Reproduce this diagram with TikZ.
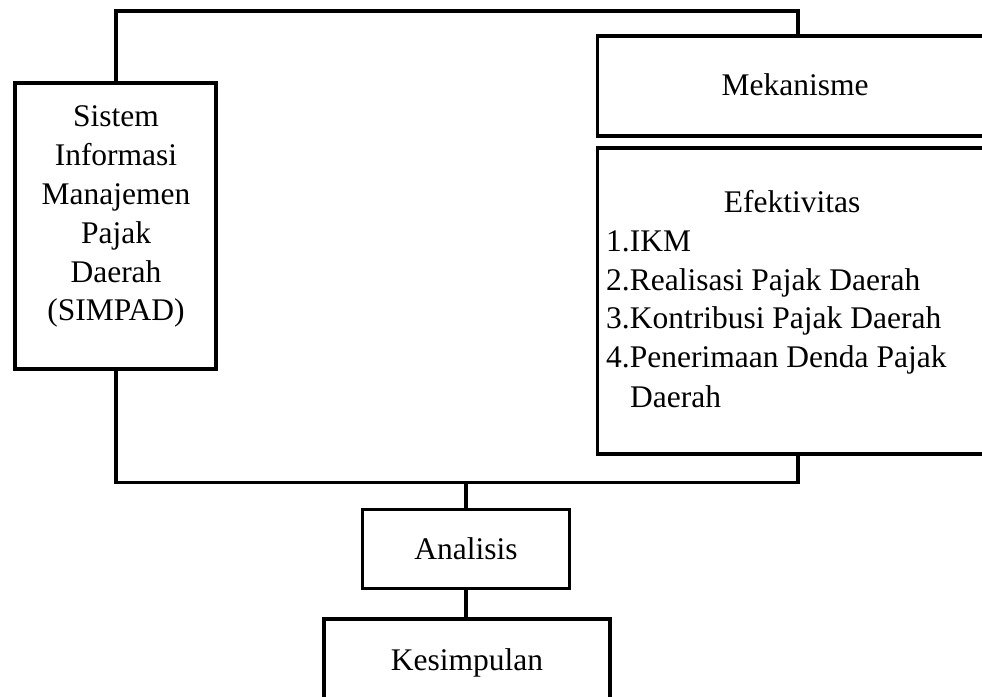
\documentclass[tikz,border=0pt]{standalone}
\usepackage{fontspec}
\setmainfont{Liberation Serif}
\begin{document}
\begin{tikzpicture}[x=1pt,y=-1pt,
  box/.style={draw=black,line width=3.8pt,inner sep=0pt},
  conn/.style={draw=black,line width=3.8pt},
  lbl/.style={anchor=base,inner sep=0pt,font=\fontsize{31.5}{39}\selectfont},
  lbll/.style={anchor=base west,inner sep=0pt,font=\fontsize{31.5}{39}\selectfont}]
\useasboundingbox (0,0) rectangle (982,696);
\clip (0,0) rectangle (982,696);
% boxes
\draw[box] (15,83) rectangle (216,369);
\node[inner sep=0pt,minimum width=201pt,minimum height=286pt] (simpad) at (115.5,226) {};
\draw[box] (597.5,36) rectangle (1010,136);
\coordinate (mek) at (798,36);
\draw[box] (597.5,148) rectangle (1010,454);
\coordinate (efk) at (798,454);
\draw[box] (362.5,509.5) rectangle (569.5,588.5);
\node[inner sep=0pt,minimum width=207pt,minimum height=79pt] (ana) at (466,549) {};
\draw[box] (324,619) rectangle (610,720);
\coordinate (kes) at (466,619);
% texts
\node[lbl] (t1) at (116,126) {Sistem};
\node[lbl] (t2) at (116,165) {Informasi};
\node[lbl] (t3) at (116,204) {Manajemen};
\node[lbl] (t4) at (116,243) {Pajak};
\node[lbl] (t5) at (116,282) {Daerah};
\node[lbl] (t6) at (116,320) {(SIMPAD)};
\node[lbl] (m1) at (795,95) {Mekanisme};
\node[lbl] (e0) at (792,212) {Efektivitas};
\node[lbll] (e1) at (606,251) {1.IKM};
\node[lbll] (e2) at (606,290) {2.Realisasi Pajak Daerah};
\node[lbll] (e3) at (606,328) {3.Kontribusi Pajak Daerah};
\node[lbll] (e4) at (606,367) {4.Penerimaan Denda Pajak};
\node[lbll] (e5) at (630,407) {Daerah};
\node[lbl] (a1) at (466,559) {Analisis};
\node[lbl] (k1) at (467,670) {Kesimpulan};
% connectors
\coordinate (tl) at (116,11);
\coordinate (tr) at (798,11);
\coordinate (bl) at (116,482.5);
\coordinate (br) at (798,482.5);
\coordinate (bm) at (466,482.5);
\draw[conn,line join=miter] (116,83) -- (tl) -- (tr) -- (mek);
\draw[conn,line join=miter] (116,369) -- (bl) -- (br) -- (efk);
\draw[conn] (bm) -- (ana.north);
\draw[conn] (ana.south) -- (kes);
\end{tikzpicture}
\end{document}
